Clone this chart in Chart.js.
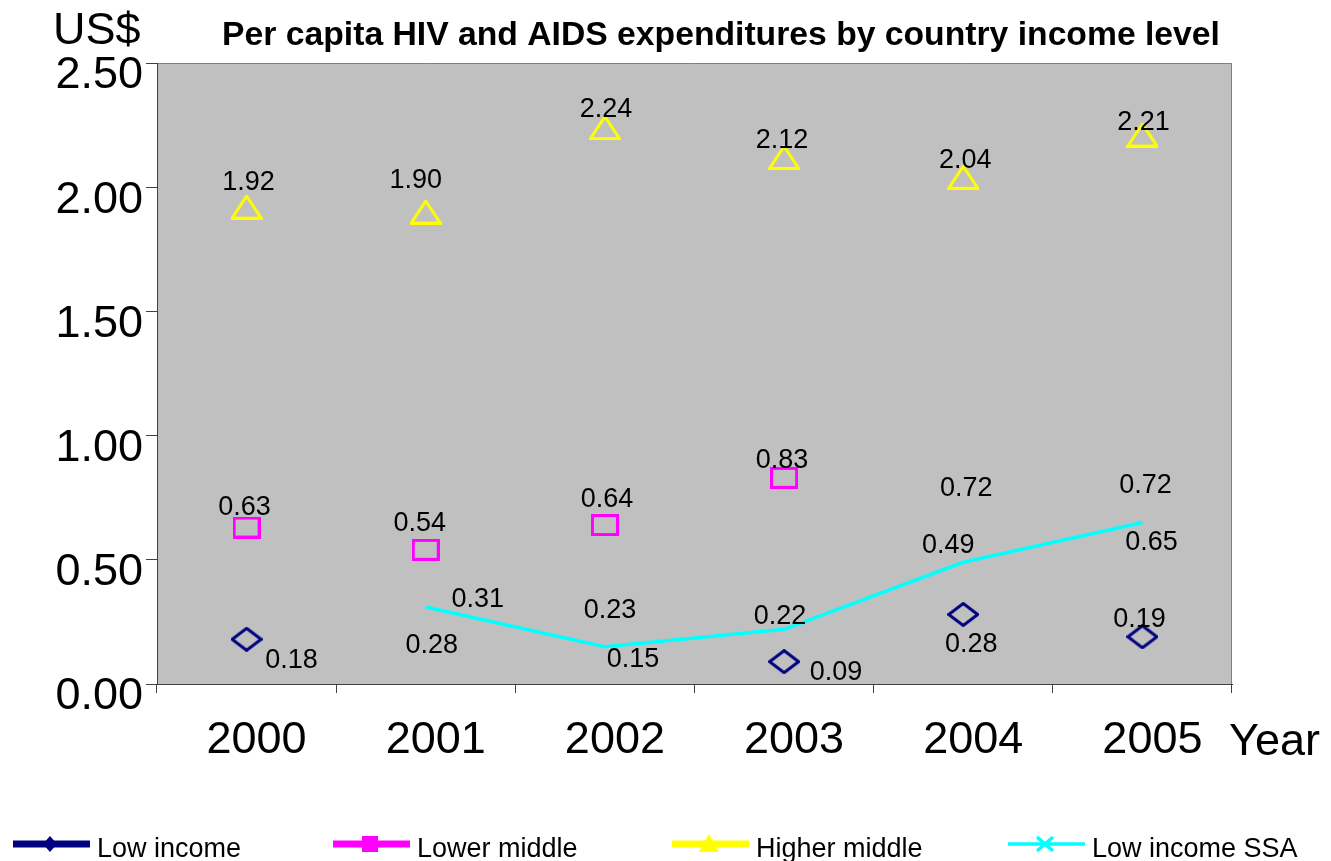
<!DOCTYPE html>
<html>
<head>
<meta charset="utf-8">
<title>Per capita HIV and AIDS expenditures by country income level</title>
<script src="https://cdn.jsdelivr.net/npm/chart.js@4.4.1/dist/chart.umd.min.js"></script>
<style>
  html, body { margin: 0; padding: 0; background: #ffffff; }
  canvas { display: block; }
</style>
</head>
<body>
<canvas id="hivChart" width="1331" height="861"></canvas>
<script>
// data
var years = ['2000', '2001', '2002', '2003', '2004', '2005'];
var lowIncome = [0.18, 0.28, 0.23, 0.09, 0.28, 0.19];
var lowerMiddle = [0.63, 0.54, 0.64, 0.83, 0.72, 0.72];
var higherMiddle = [1.92, 1.90, 2.24, 2.12, 2.04, 2.21];
var lowIncomeSSA = [null, 0.31, 0.15, 0.22, 0.49, 0.65];

var chartTitle = 'Per capita HIV and AIDS expenditures by country income level';
var yUnit = 'US$';
var xUnit = 'Year';

// some points have their marker switched off in the original
var lowIncomeMarker = [true, false, false, true, true, true];
var lowerMiddleMarker = [true, true, true, true, false, false];

// value label offsets (centre of text, relative to the point)
var lowIncomeLabelPos = [[45, 19], [6, 29], [5, -19], [52, 9], [8, 28], [-3, -19]];
var lowerMiddleLabelPos = [[-2, -22], [-6, -29], [2, -28], [-2, -19], [3, -19], [3, -22]];
var higherMiddleLabelPos = [[2, -27], [-10, -34], [1, -20], [-2, -19], [2, -19], [1, -15]];
var ssaLabelPos = [[0, 0], [52, -10], [28, 11], [-4, -15], [-15, -19], [9, 18]];

var FONT = "'Liberation Sans', Arial, Helvetica, sans-serif";

var markerImage = function (shape, w, h, color, lw) {
    var c = document.createElement('canvas');
    c.width = w + lw;
    c.height = h + lw;
    var g = c.getContext('2d');
    var x0 = lw / 2, y0 = lw / 2;
    g.strokeStyle = color;
    g.lineWidth = lw;
    g.beginPath();
    if (shape === 'diamond') {
        g.moveTo(x0 + w / 2, y0);
        g.lineTo(x0 + w, y0 + h / 2);
        g.lineTo(x0 + w / 2, y0 + h);
        g.lineTo(x0, y0 + h / 2);
    } else if (shape === 'square') {
        g.rect(x0, y0, w, h);
    } else {
        g.moveTo(x0 + w / 2, y0);
        g.lineTo(x0 + w, y0 + h);
        g.lineTo(x0, y0 + h);
    }
    g.closePath();
    g.stroke();
    return c;
};

var diamondImg = markerImage('diamond', 29, 22, '#000080', 3);
var squareImg = markerImage('square', 25, 19, '#ff00ff', 3);
var triangleImg = markerImage('triangle', 29, 22, '#ffff00', 3);

var shownRadius = function (flags) {
    return function (ctx) {
        return flags[ctx.dataIndex] ? 12 : 0;
    };
};

// legend layout (Excel style: line with marker)
var legendStyle = [
    { x: 13, marker: 'diamond', lw: 7 },
    { x: 333, marker: 'square', lw: 7 },
    { x: 672, marker: 'triangle', lw: 7 },
    { x: 1008, marker: 'cross', lw: 3.5 }
];

var drawLegendMarker = function (ctx, type, cx, cy, color) {
    ctx.fillStyle = color;
    ctx.strokeStyle = color;
    ctx.beginPath();
    if (type === 'diamond') {
        ctx.moveTo(cx, cy - 8);
        ctx.lineTo(cx + 7, cy);
        ctx.lineTo(cx, cy + 8);
        ctx.lineTo(cx - 7, cy);
        ctx.closePath();
        ctx.fill();
    } else if (type === 'square') {
        ctx.rect(cx - 8, cy - 8, 16, 16);
        ctx.fill();
    } else if (type === 'triangle') {
        ctx.moveTo(cx, cy - 10);
        ctx.lineTo(cx + 10, cy + 8);
        ctx.lineTo(cx - 10, cy + 8);
        ctx.closePath();
        ctx.fill();
    } else {
        ctx.lineWidth = 3.5;
        ctx.moveTo(cx - 8, cy - 7);
        ctx.lineTo(cx + 8, cy + 7);
        ctx.moveTo(cx + 8, cy - 7);
        ctx.lineTo(cx - 8, cy + 7);
        ctx.stroke();
    }
};

var decorPlugin = {
    id: 'decor',
    beforeDraw: function (chart) {
        var a = chart.chartArea;
        var ctx = chart.ctx;
        ctx.save();
        ctx.fillStyle = '#ffffff';
        ctx.fillRect(0, 0, chart.width, chart.height);
        ctx.fillStyle = '#c0c0c0';
        ctx.fillRect(a.left, a.top, a.right - a.left, a.bottom - a.top);
        ctx.strokeStyle = '#808080';
        ctx.lineWidth = 1;
        ctx.beginPath();
        ctx.moveTo(a.left, a.top + 0.5);
        ctx.lineTo(a.right - 0.5, a.top + 0.5);
        ctx.lineTo(a.right - 0.5, a.bottom);
        ctx.stroke();
        ctx.restore();
    },
    afterDatasetsDraw: function (chart) {
        var ctx = chart.ctx;
        var offsets = [lowIncomeLabelPos, lowerMiddleLabelPos, higherMiddleLabelPos, ssaLabelPos];
        ctx.save();
        ctx.font = '27px ' + FONT;
        ctx.fillStyle = '#000000';
        ctx.textAlign = 'center';
        ctx.textBaseline = 'alphabetic';
        chart.data.datasets.forEach(function (ds, i) {
            var meta = chart.getDatasetMeta(i);
            meta.data.forEach(function (pt, j) {
                var v = ds.data[j];
                if (v === null || v === undefined) return;
                var off = offsets[i][j];
                ctx.fillText(v.toFixed(2), pt.x + off[0], pt.y + off[1] + 27 * 0.358);
            });
        });
        ctx.restore();
    },
    afterDraw: function (chart) {
        var ctx = chart.ctx;
        ctx.save();
        ctx.fillStyle = '#000000';
        ctx.textBaseline = 'alphabetic';

        ctx.font = 'bold 33.7px ' + FONT;
        ctx.textAlign = 'center';
        ctx.fillText(chartTitle, 721, 45);

        ctx.font = '45px ' + FONT;
        ctx.textAlign = 'left';
        ctx.fillText(yUnit, 53, 44);
        ctx.fillText(xUnit, 1229, 755);

        // legend
        ctx.font = '27px ' + FONT;
        chart.data.datasets.forEach(function (ds, i) {
            var st = legendStyle[i];
            var cy = 844;
            ctx.strokeStyle = ds.borderColor;
            ctx.lineWidth = st.lw;
            ctx.beginPath();
            ctx.moveTo(st.x, cy);
            ctx.lineTo(st.x + 77, cy);
            ctx.stroke();
            drawLegendMarker(ctx, st.marker, st.x + 37, cy, ds.borderColor);
            ctx.fillStyle = '#000000';
            ctx.fillText(ds.label, st.x + 84, 857);
        });
        ctx.restore();
    }
};

var axisColor = '#404040';

new Chart(document.getElementById('hivChart'), {
    type: 'line',
    data: {
        labels: years,
        datasets: [
            {
                label: 'Low income',
                data: lowIncome,
                showLine: false,
                borderColor: '#000080',
                backgroundColor: '#000080',
                pointStyle: diamondImg,
                pointRadius: shownRadius(lowIncomeMarker)
            },
            {
                label: 'Lower middle',
                data: lowerMiddle,
                showLine: false,
                borderColor: '#ff00ff',
                backgroundColor: '#ff00ff',
                pointStyle: squareImg,
                pointRadius: shownRadius(lowerMiddleMarker)
            },
            {
                label: 'Higher middle',
                data: higherMiddle,
                showLine: false,
                borderColor: '#ffff00',
                backgroundColor: '#ffff00',
                pointStyle: triangleImg,
                pointRadius: 12
            },
            {
                label: 'Low income SSA',
                data: lowIncomeSSA,
                borderColor: '#00ffff',
                backgroundColor: '#00ffff',
                borderWidth: 3.5,
                pointRadius: 0,
                tension: 0
            }
        ]
    },
    options: {
        responsive: false,
        animation: false,
        devicePixelRatio: 1,
        events: [],
        layout: {
            padding: { top: 63, right: 99, bottom: 107, left: 0 }
        },
        plugins: {
            legend: { display: false },
            title: { display: false },
            tooltip: { enabled: false }
        },
        scales: {
            x: {
                offset: true,
                grid: {
                    offset: true,
                    drawOnChartArea: false,
                    drawTicks: true,
                    tickLength: 9,
                    color: axisColor
                },
                border: { color: axisColor, width: 1 },
                ticks: {
                    color: '#000000',
                    font: { family: FONT, size: 45 },
                    padding: 21,
                    labelOffset: 10,
                    maxRotation: 0,
                    autoSkip: false
                },
                afterFit: function (scale) {
                    scale.height = 70;
                }
            },
            y: {
                min: 0,
                max: 2.5,
                grid: {
                    drawOnChartArea: false,
                    drawTicks: true,
                    tickLength: 11,
                    color: axisColor
                },
                border: { color: axisColor, width: 1 },
                ticks: {
                    stepSize: 0.5,
                    color: '#000000',
                    font: { family: FONT, size: 45 },
                    padding: 3,
                    labelOffset: 13,
                    callback: function (value) {
                        return value.toFixed(2);
                    }
                },
                afterFit: function (scale) {
                    scale.width = 157;
                }
            }
        }
    },
    plugins: [decorPlugin]
});
</script>
</body>
</html>
